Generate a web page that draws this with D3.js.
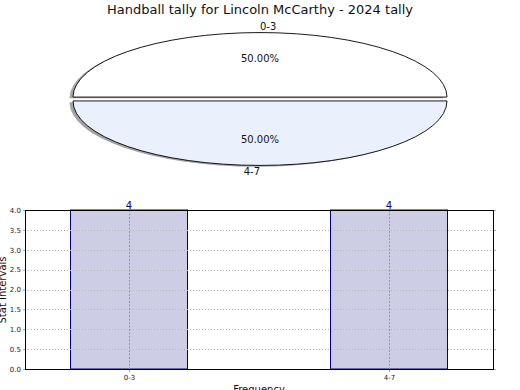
<!DOCTYPE html>
<html>
<head>
<meta charset="utf-8">
<script src="https://cdn.jsdelivr.net/npm/d3@7"></script>
<style>
  body { margin: 0; background: #fff; }
  svg { font-family: "DejaVu Sans", sans-serif; display: block; }
</style>
</head>
<body>
<svg width="520" height="390"></svg>
<script>
const categories = ["0-3", "4-7"]
const counts = [4, 4]
const pieColors = ["#ffffff", "#eaf1fd"]
const yTicks = [0, 0.5, 1, 1.5, 2, 2.5, 3, 3.5, 4]

const svg = d3.select("svg")

svg.append("text")
  .attr("x", 260).attr("y", 14)
  .attr("text-anchor", "middle")
  .attr("font-size", 13)
  .attr("fill", "#111")
  .text("Handball tally for Lincoln McCarthy - 2024 tally")

// pie, squashed into an ellipse
const cx = 260, cy = 99, rx = 187, ry = 64.5
const explode = 0.03

const pie = d3.pie().sort(null)
  .startAngle(Math.PI / 2)
  .endAngle(Math.PI / 2 - 2 * Math.PI)
const arc = d3.arc().innerRadius(0).outerRadius(rx)
const slices = pie(counts)

const pieG = svg.append("g")

const offset = d => {
  const mid = (d.startAngle + d.endAngle) / 2
  return [explode * Math.sin(mid) * rx, -explode * Math.cos(mid) * ry]
}

// shadows first (darkened face colour, half transparent)
slices.forEach((d, i) => {
  const [dx, dy] = offset(d)
  const c = d3.rgb(pieColors[i])
  pieG.append("path")
    .attr("d", arc(d))
    .attr("transform", `translate(${cx + dx - 3.5},${cy + dy + 1.3}) scale(1,${ry / rx})`)
    .attr("fill", d3.rgb(c.r * 0.3, c.g * 0.3, c.b * 0.3))
    .attr("opacity", 0.5)
})

slices.forEach((d, i) => {
  const [dx, dy] = offset(d)
  pieG.append("path")
    .attr("d", arc(d))
    .attr("transform", `translate(${cx + dx},${cy + dy}) scale(1,${ry / rx})`)
    .attr("fill", pieColors[i])
    .attr("stroke", "#000")
    .attr("stroke-width", 0.9)
    .attr("vector-effect", "non-scaling-stroke")

  const mid = (d.startAngle + d.endAngle) / 2
  const total = d3.sum(counts)
  const pct = (d.value / total * 100).toFixed(2) + "%"
  pieG.append("text")
    .attr("x", cx + dx + 0.6 * rx * Math.sin(mid))
    .attr("y", cy + dy - 0.6 * ry * Math.cos(mid))
    .attr("dy", "0.35em")
    .attr("text-anchor", "middle")
    .attr("font-size", 10)
    .attr("fill", "#111")
    .text(pct)

  // matplotlib picks left/right alignment from the sign of cos
  const s = Math.sin(mid)
  pieG.append("text")
    .attr("x", cx + dx + 1.1 * rx * s)
    .attr("y", cy + dy - 1.1 * ry * Math.cos(mid))
    .attr("dy", "0.35em")
    .attr("text-anchor", i === 0 ? "start" : "end")
    .attr("font-size", 10)
    .attr("fill", "#111")
    .text(categories[i])
})

// bar chart
const plotL = 25, plotR = 493, plotT = 210, plotB = 369
const x = d3.scaleLinear().domain([-0.4, 1.4]).range([plotL, plotR])
const y = d3.scaleLinear().domain([0, 4]).range([plotB, plotT])
const barW = 0.45

const barG = svg.append("g")

barG.selectAll("rect.bar")
  .data(counts)
  .enter()
  .append("rect")
    .attr("class", "bar")
    .attr("x", (d, i) => x(i - barW / 2))
    .attr("width", x(barW) - x(0))
    .attr("y", d => y(d))
    .attr("height", d => y(0) - y(d))
    .attr("fill", "#cdcde6")
    .attr("stroke", "#000080")
    .attr("stroke-width", 1)

// grid
barG.selectAll("line.hgrid")
  .data(yTicks.slice(1, -1))
  .enter()
  .append("line")
    .attr("x1", plotL).attr("x2", plotR)
    .attr("y1", d => Math.round(y(d)) + 0.5)
    .attr("y2", d => Math.round(y(d)) + 0.5)
    .attr("stroke", "#b8b8b8")
    .attr("stroke-dasharray", "1,2")

barG.selectAll("line.vgrid")
  .data(categories)
  .enter()
  .append("line")
    .attr("x1", (d, i) => Math.round(x(i)) + 0.5)
    .attr("x2", (d, i) => Math.round(x(i)) + 0.5)
    .attr("y1", plotT).attr("y2", plotB)
    .attr("stroke", "#999")
    .attr("stroke-dasharray", "2,1.5")

// frame
barG.append("rect")
  .attr("x", plotL + 0.5).attr("y", plotT + 0.5)
  .attr("width", plotR - plotL).attr("height", plotB - plotT)
  .attr("fill", "none")
  .attr("stroke", "#000")

// y axis ticks + labels
const yAxis = d3.axisLeft(y).tickValues(yTicks).tickFormat(d3.format(".1f")).tickSize(2).tickPadding(2)
const yg = barG.append("g").attr("transform", `translate(${plotL},0)`).call(yAxis)
yg.select(".domain").remove()
yg.selectAll("line").attr("stroke", "#aaa")
yg.selectAll("text").attr("font-size", 7).attr("fill", "#222").attr("font-family", "DejaVu Sans")

const yAxisR = d3.axisRight(y).tickValues(yTicks).tickFormat("").tickSize(2)
const yr = barG.append("g").attr("transform", `translate(${plotR + 1},0)`).call(yAxisR)
yr.select(".domain").remove()
yr.selectAll("line").attr("stroke", "#aaa")

const xAxis = d3.axisBottom(x).tickValues([0, 1]).tickFormat((d, i) => categories[i]).tickSize(2).tickPadding(3)
const xg = barG.append("g").attr("transform", `translate(0,${plotB + 1})`).call(xAxis)
xg.select(".domain").remove()
xg.selectAll("line").attr("stroke", "#aaa")
xg.selectAll("text").attr("font-size", 7).attr("fill", "#222").attr("font-family", "DejaVu Sans")

// value labels
barG.selectAll("text.val")
  .data(counts)
  .enter()
  .append("text")
    .attr("x", (d, i) => x(i))
    .attr("y", d => y(d) - 1)
    .attr("text-anchor", "middle")
    .attr("font-size", 10)
    .attr("fill", "#000080")
    .text(d => d)

svg.append("text")
  .attr("x", 259).attr("y", 393)
  .attr("text-anchor", "middle")
  .attr("font-size", 10)
  .attr("fill", "#111")
  .text("Frequency")

svg.append("text")
  .attr("transform", "translate(6,290) rotate(-90)")
  .attr("text-anchor", "middle")
  .attr("font-size", 10)
  .attr("fill", "#111")
  .text("Stat Intervals")
</script>
</body>
</html>
